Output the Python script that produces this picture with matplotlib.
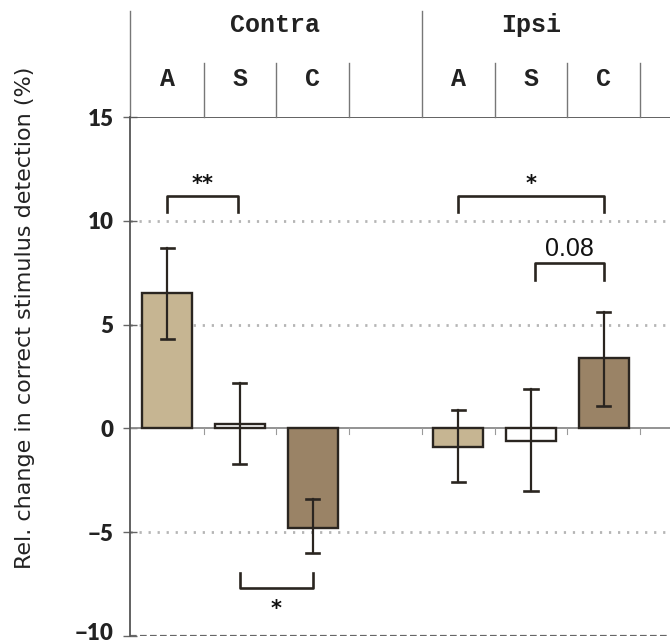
import matplotlib
matplotlib.use("Agg")
import matplotlib.pyplot as plt
import matplotlib.transforms as mtransforms
import numpy as np

# ---- data ----
groups = ["Contra", "Ipsi"]
conditions = ["A", "S", "C"]
contra_values = [6.5, 0.2, -4.8]
contra_err_hi = [8.7, 2.2, -3.4]
contra_err_lo = [4.3, -1.7, -6.0]
ipsi_values = [-0.9, -0.6, 3.4]
ipsi_err_hi = [0.9, 1.9, 5.6]
ipsi_err_lo = [-2.6, -3.0, 1.1]
yticks = [15, 10, 5, 0, -5, -10]
ytick_labels = ["15", "10", "5", "0", "\u22125", "\u221210"]

colors = ["#c6b592", "#ffffff", "#9a8366"]
edge = "#2a2520"

fig = plt.figure(figsize=(6.7, 6.44), dpi=100)
ax = fig.add_axes([130/670, 1-636/644, 540/670, (636-117)/644])

xs_contra = np.array([0, 1, 2])
xs_ipsi = np.array([4, 5, 6])
width = 0.69

for xs, vals, hi, lo in [(xs_contra, contra_values, contra_err_hi, contra_err_lo),
                         (xs_ipsi, ipsi_values, ipsi_err_hi, ipsi_err_lo)]:
    ax.bar(xs, vals, width=width, color=colors, edgecolor=edge, linewidth=1.7, zorder=3)
    for x, h, l in zip(xs, hi, lo):
        ax.plot([x, x], [l, h], color=edge, lw=1.6, zorder=4)
        ax.plot([x - 0.09, x + 0.09], [h, h], color=edge, lw=1.9, zorder=4)
        ax.plot([x - 0.09, x + 0.09], [l, l], color=edge, lw=1.9, zorder=4)

ax.set_xlim(-0.51, 6.91)
ax.set_ylim(-10, 15)

# grid lines
for y in [10, 5, -5]:
    ax.axhline(y, color="#b5b5b5", lw=2.0, ls=(0, (0.8, 2.45)), zorder=1)
ax.axhline(0, color="#8a8a8a", lw=1.3, zorder=2)
ax.axhline(15, color="#555555", lw=1.3, zorder=2)
ax.axhline(-10, color="#666666", lw=1.6, ls=(0, (3, 1.5)), zorder=2)
for xb in [0.5, 1.5, 2.5, 3.5, 4.5, 5.5, 6.5]:
    ax.plot([xb, xb], [0, -0.25], color="#9a9a9a", lw=0.8, zorder=2)

for s in ["top", "right", "bottom"]:
    ax.spines[s].set_visible(False)
ax.spines["left"].set_color("#555555")
ax.spines["left"].set_linewidth(1.3)
ax.set_xticks([])
ax.set_yticks(yticks)
ax.set_yticklabels(ytick_labels, fontfamily="Lato", fontweight="heavy", fontsize=16,
                   color="#222222")
ax.tick_params(axis="y", direction="inout", length=10, width=1, color="#666666", pad=7)
# keep the lowest label inside the picture
lab = ax.get_yticklabels()[-1]
lab.set_transform(lab.get_transform() + mtransforms.ScaledTranslation(0, 5/100, fig.dpi_scale_trans))

fig.text(25/670, 1 - 318/644, "Rel. change in correct stimulus detection (%)",
         rotation=90, fontsize=16, fontfamily="DejaVu Sans", color="#222222",
         ha="center", va="center")

# header
hdr = dict(clip_on=False, color="#777777", lw=1.0)
ax.plot([-0.51, -0.51], [15, 20.1], **hdr)
ax.plot([3.5, 3.5], [15, 20.1], **hdr)
for xb in [0.5, 1.5, 2.5, 4.5, 5.5, 6.5]:
    ax.plot([xb, xb], [15, 17.6], **hdr)
mono = dict(fontfamily="Liberation Mono", fontweight="bold", ha="center", va="center",
            color="#222222")
ax.text(1.48, 19.45, "Contra", fontsize=18, **mono)
ax.text(5.0, 19.45, "Ipsi", fontsize=18, **mono)
for xs in [xs_contra, xs_ipsi]:
    for x, c in zip(xs, conditions):
        ax.text(x, 16.85, c, fontsize=18, **mono)

# significance brackets
bk = dict(color=edge, lw=1.9, zorder=5, clip_on=False)
def bracket(x1, x2, y, leg, label, ty, fs=15, family="DejaVu Sans", weight="bold"):
    ax.plot([x1, x1, x2, x2], [y + leg, y, y, y + leg], **bk)
    ax.text((x1 + x2) / 2, ty, label, ha="center", va="center", fontsize=fs,
            color="#111111", fontfamily=family, fontweight=weight)

bracket(0, 0.98, 11.2, -0.8, "**", 11.75)
bracket(4, 6.0, 11.2, -0.8, "*", 11.75)
bracket(5.05, 6.0, 7.95, -0.8, "0.08", 8.65, fs=18, family="Liberation Sans", weight="normal")
bracket(1.0, 2.0, -7.7, 0.75, "*", -8.7)

fig.savefig("out.png", dpi=100)
